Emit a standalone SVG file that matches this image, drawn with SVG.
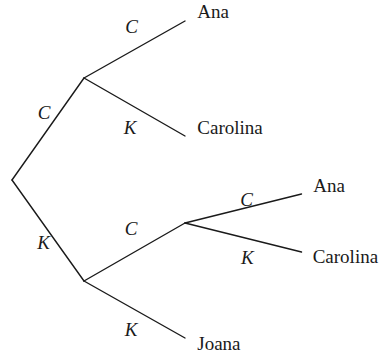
<svg xmlns="http://www.w3.org/2000/svg" width="379" height="356" viewBox="0 0 379 356">
<style>
.edge{stroke:#1a1a1a;stroke-width:1.4;fill:none;stroke-linecap:round}
.lbl{font-family:"Liberation Serif",serif;font-style:italic;font-size:19px;fill:#1a1a1a;text-anchor:middle}
.leaf{font-family:"Liberation Serif",serif;font-size:19px;fill:#1a1a1a}
</style>
<rect width="379" height="356" fill="#ffffff"/>
<g id="connectors">
<line class="edge" x1="12" y1="180" x2="84" y2="78"/>
<line class="edge" x1="12" y1="180" x2="84" y2="281"/>
<line class="edge" x1="84" y1="78" x2="185" y2="21"/>
<line class="edge" x1="84" y1="78" x2="185" y2="136"/>
<line class="edge" x1="84" y1="281" x2="185" y2="223"/>
<line class="edge" x1="84" y1="281" x2="185" y2="338"/>
<line class="edge" x1="185" y1="223" x2="301.5" y2="194"/>
<line class="edge" x1="185" y1="223" x2="301.5" y2="252"/>
</g>
<g id="edge-labels">
<text class="lbl" x="131.5" y="32.7">C</text>
<text class="lbl" x="44" y="119.3">C</text>
<text class="lbl" x="130" y="134">K</text>
<text class="lbl" x="43.5" y="249">K</text>
<text class="lbl" x="131" y="235.3">C</text>
<text class="lbl" x="131" y="335.7">K</text>
<text class="lbl" x="246.7" y="206">C</text>
<text class="lbl" x="247.3" y="264.3">K</text>
</g>
<g id="leaf-ana-1"><text class="leaf" x="197.3" y="18.3">Ana</text></g>
<g id="leaf-carolina-1"><text class="leaf" x="197.3" y="134.3">Carolina</text></g>
<g id="leaf-ana-2"><text class="leaf" x="313.3" y="191.7">Ana</text></g>
<g id="leaf-carolina-2"><text class="leaf" x="312.7" y="263.3">Carolina</text></g>
<g id="leaf-joana"><text class="leaf" x="197.3" y="350">Joana</text></g>
</svg>
